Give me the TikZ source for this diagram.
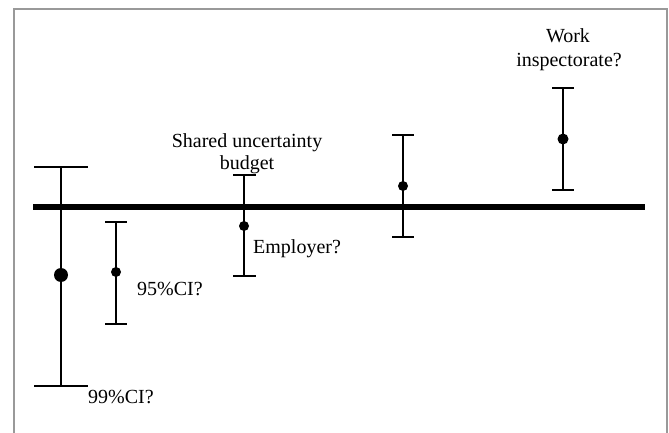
\documentclass[tikz,border=0pt]{standalone}
\usepackage{fontspec}
\setmainfont{Liberation Serif}
\begin{document}
\begin{tikzpicture}[x=1pt,y=-1pt,
  bar/.style={line width=2pt,black},
  axisline/.style={line width=5.5pt,black},
  frameline/.style={line width=1.6pt,gray!80},
  lbl/.style={inner sep=0pt,font=\fontsize{20}{23}\selectfont},
  dot/.style={fill=black}]
\useasboundingbox (0,0) rectangle (669,433);
\fill[white] (0,0) rectangle (669,433);
% frame
\draw[frameline] (14,433) -- (14,9) -- (667,9) -- (667,433);
% error bars
\draw[bar] (34,167) -- (88,167) (61,167) -- (61,386) (34,386) -- (88,386);
\draw[bar] (105,222) -- (127,222) (116,222) -- (116,324) (105,324) -- (127,324);
\draw[bar] (233,175) -- (256,175) (244,175) -- (244,276) (233,276) -- (256,276);
\draw[bar] (392,135) -- (414,135) (403,135) -- (403,237) (392,237) -- (414,237);
\draw[bar] (552,88) -- (574,88) (563,88) -- (563,190) (552,190) -- (574,190);
% main line
\draw[axisline] (33,207) -- (645,207);
% dots
\fill[dot] (61,275) circle (7);
\fill[dot] (116,272) circle (5);
\fill[dot] (244,226) circle (5);
\fill[dot] (403,186) circle (5);
\fill[dot] (563,139) circle (5.5);
% labels
\node[lbl,anchor=base west] (l99) at (88,403) {99\%CI?};
\node[lbl,anchor=base west] (l95) at (137,295) {95\%CI?};
\node[lbl,anchor=base west] (emp) at (253,253) {Employer?};
\node[lbl,anchor=base] (sh1) at (247,147) {Shared uncertainty};
\node[lbl,anchor=base] (sh2) at (247,169) {budget};
\node[lbl,anchor=base] (wk1) at (568,43) {Work};
\node[lbl,anchor=base] (wk2) at (569,67) {inspectorate?};
\end{tikzpicture}
\end{document}
